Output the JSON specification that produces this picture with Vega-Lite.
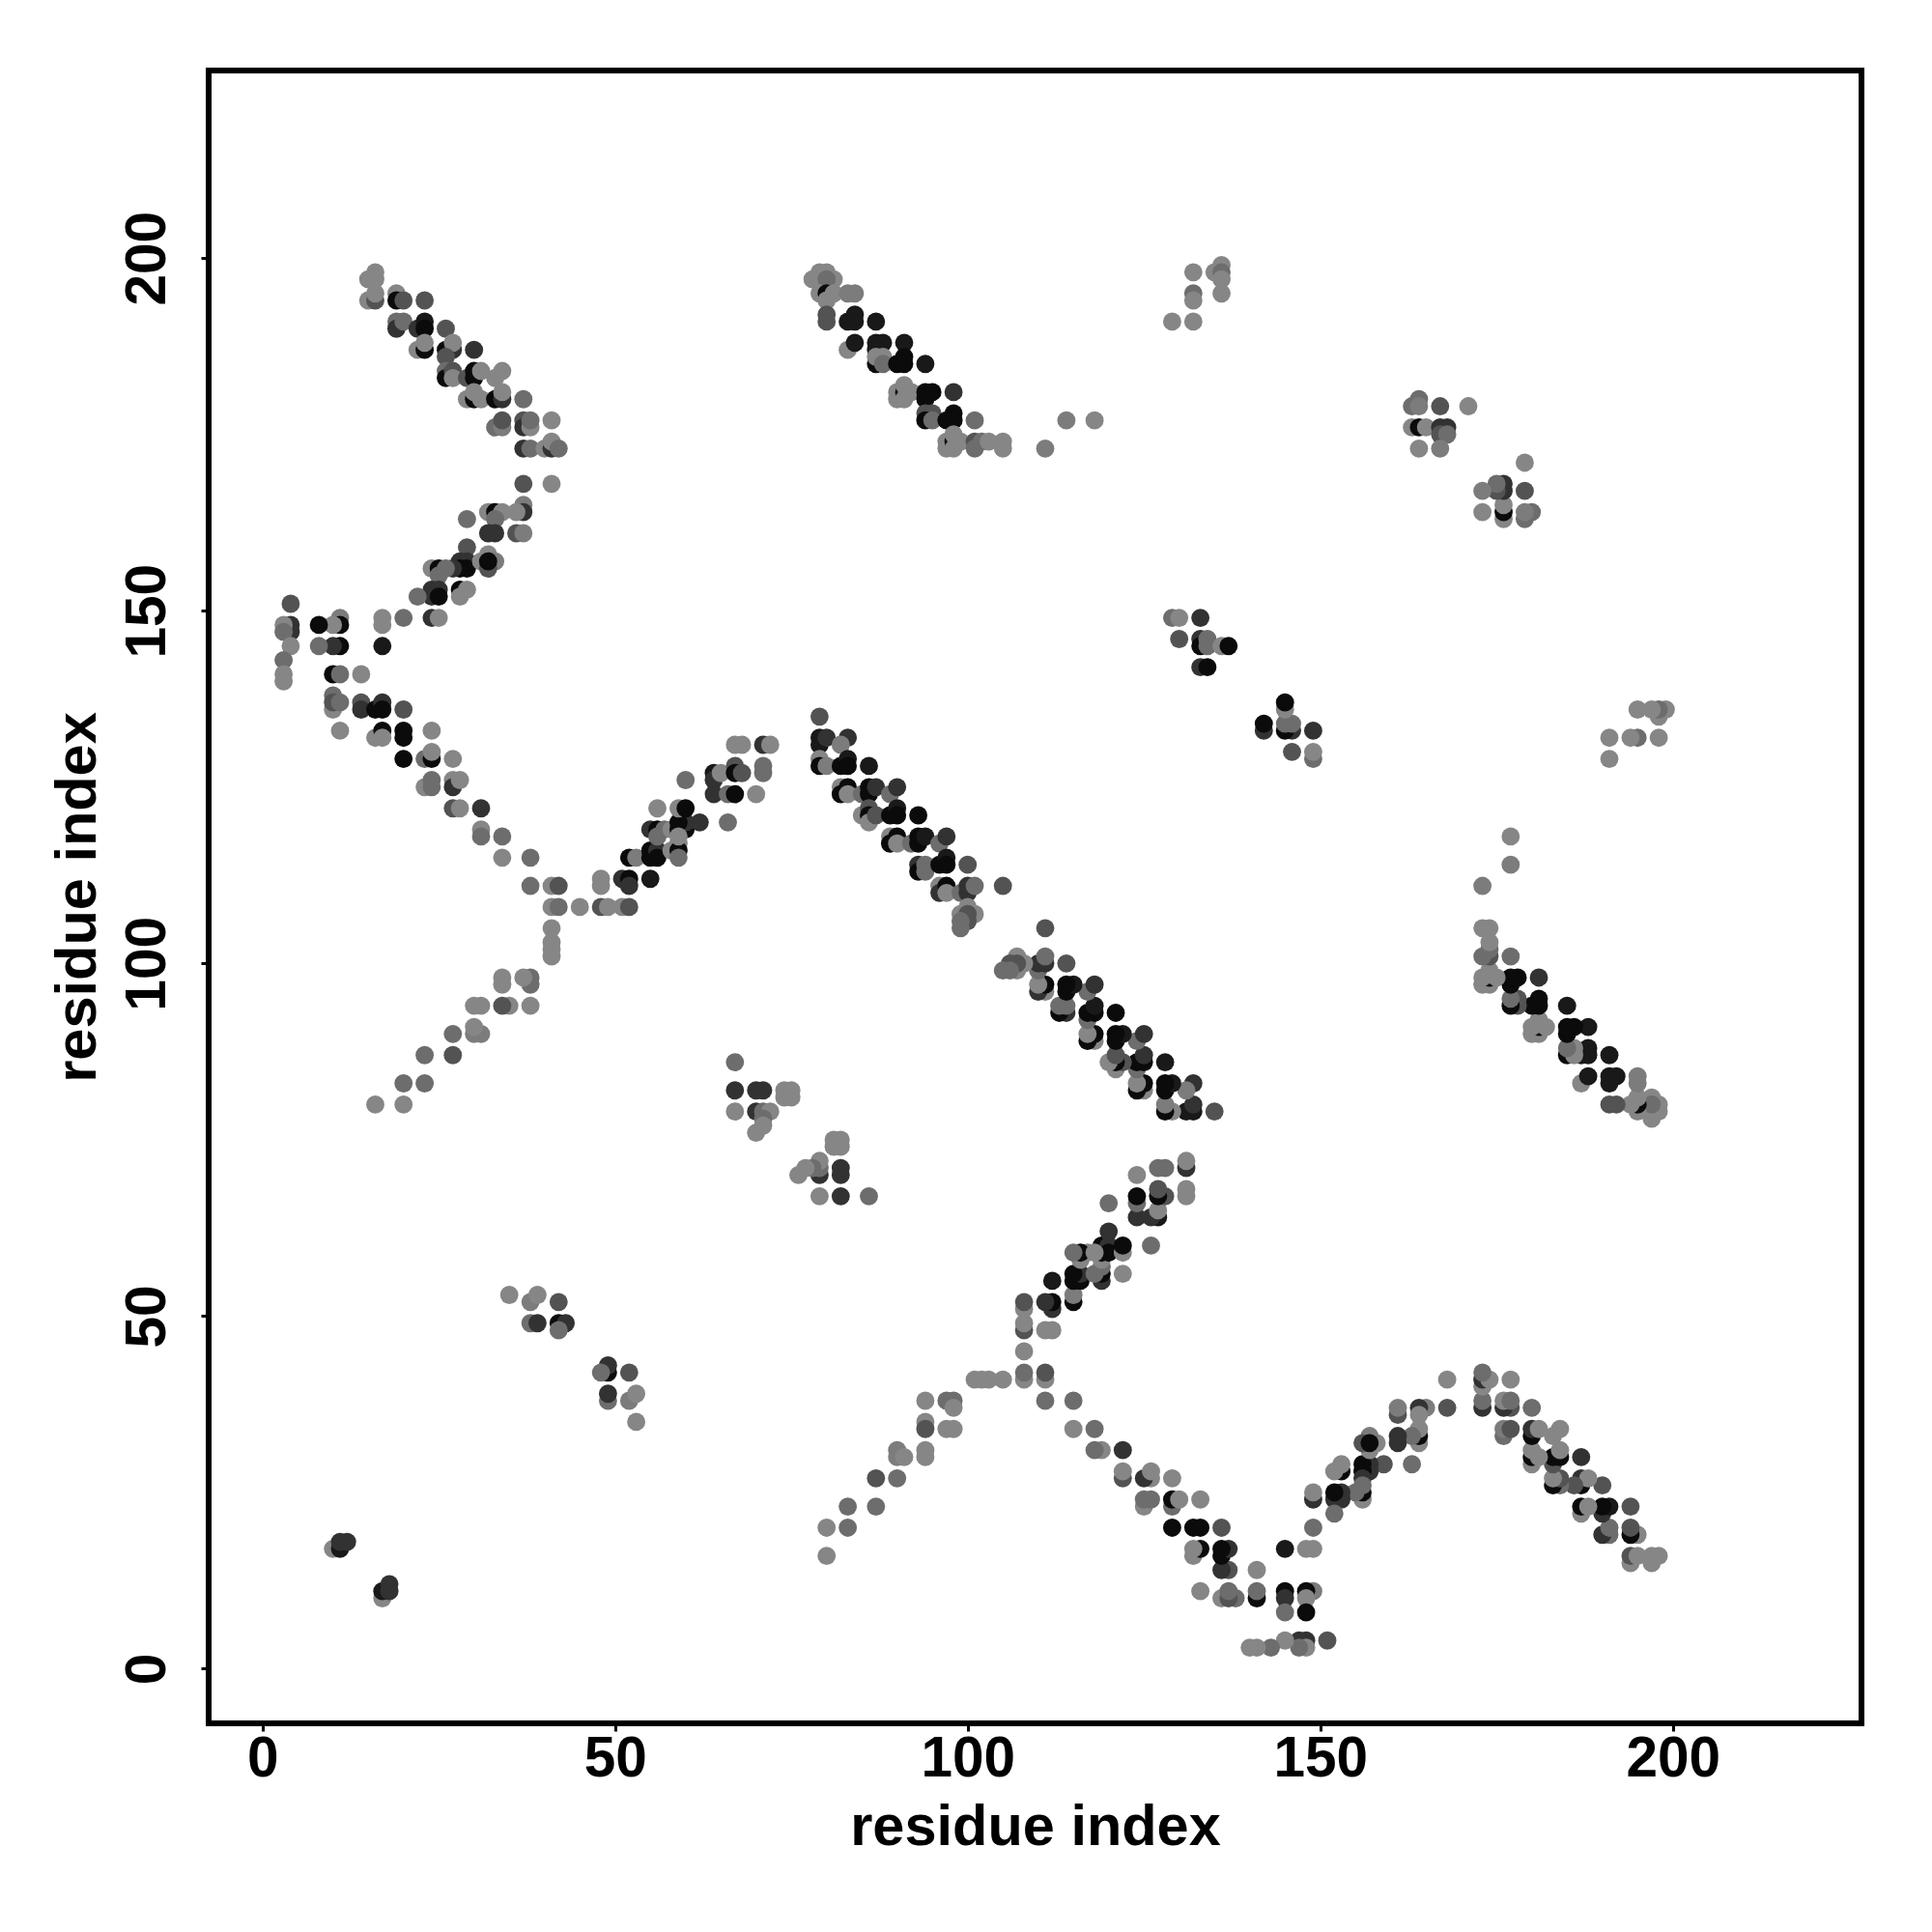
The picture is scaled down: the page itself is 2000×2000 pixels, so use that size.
{"$schema":"https://vega.github.io/schema/vega-lite/v6.json","autosize":{"type":"none"},"padding":{"left":216,"top":73,"right":73,"bottom":216},"width":1711,"height":1711,"background":"white","config":{"view":{"stroke":"#000000","strokeWidth":6,"fill":"white"}},
"data":{"values":[
{"i":38,"j":94,"w":0.05},{"i":94,"j":38,"w":0.05},
{"i":16,"j":198,"w":0.05},{"i":15,"j":197,"w":0.05},{"i":16,"j":197,"w":0.05},{"i":15,"j":194,"w":0.05},{"i":16,"j":194,"w":0.4},{"i":16,"j":195,"w":0.05},{"i":19,"j":195,"w":0.05},{"i":19,"j":194,"w":0.95},{"i":20,"j":194,"w":0.4},{"i":23,"j":194,"w":0.4},
{"i":19,"j":191,"w":0.22},{"i":19,"j":190,"w":0.65},{"i":20,"j":191,"w":0.22},{"i":22,"j":190,"w":0.65},{"i":23,"j":191,"w":0.85},{"i":23,"j":190,"w":0.95},{"i":26,"j":190,"w":0.4},
{"i":22,"j":187,"w":0.05},{"i":23,"j":187,"w":0.95},{"i":23,"j":188,"w":0.05},{"i":26,"j":187,"w":0.95},{"i":27,"j":187,"w":0.65},{"i":27,"j":188,"w":0.05},{"i":26,"j":186,"w":0.4},{"i":30,"j":187,"w":0.65},
{"i":26,"j":184,"w":0.22},{"i":26,"j":183,"w":0.95},{"i":27,"j":184,"w":0.4},{"i":27,"j":183,"w":0.05},{"i":29,"j":183,"w":0.4},{"i":30,"j":184,"w":0.95},{"i":30,"j":183,"w":0.95},{"i":31,"j":184,"w":0.05},{"i":33,"j":183,"w":0.05},{"i":34,"j":184,"w":0.05},
{"i":29,"j":180,"w":0.05},{"i":30,"j":180,"w":0.95},{"i":30,"j":181,"w":0.05},{"i":31,"j":180,"w":0.05},{"i":33,"j":180,"w":0.95},{"i":34,"j":180,"w":0.65},{"i":34,"j":181,"w":0.05},{"i":37,"j":180,"w":0.22},
{"i":33,"j":176,"w":0.22},{"i":34,"j":176,"w":0.12},{"i":34,"j":177,"w":0.4},{"i":37,"j":177,"w":0.4},{"i":37,"j":176,"w":0.65},{"i":38,"j":176,"w":0.05},{"i":38,"j":177,"w":0.22},{"i":41,"j":177,"w":0.05},
{"i":37,"j":173,"w":0.65},{"i":38,"j":173,"w":0.22},{"i":40,"j":173,"w":0.05},{"i":41,"j":173,"w":0.65},{"i":41,"j":174,"w":0.05},{"i":42,"j":173,"w":0.22},{"i":37,"j":168,"w":0.4},{"i":41,"j":168,"w":0.05},
{"i":37,"j":165,"w":0.12},{"i":37,"j":164,"w":0.65},{"i":36,"j":164,"w":0.05},{"i":32,"j":164,"w":0.05},{"i":33,"j":164,"w":0.95},{"i":34,"j":164,"w":0.05},{"i":33,"j":163,"w":0.22},{"i":29,"j":163,"w":0.22},
{"i":32,"j":161,"w":0.65},{"i":33,"j":161,"w":0.65},{"i":36,"j":161,"w":0.4},{"i":37,"j":161,"w":0.12},{"i":29,"j":159,"w":0.4},
{"i":28,"j":157,"w":0.65},{"i":29,"j":157,"w":0.65},{"i":28,"j":156,"w":0.95},{"i":29,"j":156,"w":0.95},{"i":27,"j":156,"w":0.65},
{"i":31,"j":157,"w":0.05},{"i":32,"j":158,"w":0.05},{"i":33,"j":157,"w":0.12},{"i":32,"j":156,"w":0.4},{"i":32,"j":157,"w":0.95},
{"i":24,"j":156,"w":0.05},{"i":25,"j":156,"w":0.95},{"i":26,"j":156,"w":0.22},{"i":25,"j":155,"w":0.22},
{"i":24,"j":153,"w":0.65},{"i":25,"j":153,"w":0.65},{"i":24,"j":152,"w":0.65},{"i":25,"j":152,"w":0.95},{"i":22,"j":152,"w":0.22},
{"i":28,"j":153,"w":0.95},{"i":29,"j":153,"w":0.05},{"i":28,"j":152,"w":0.05},
{"i":24,"j":149,"w":0.65},{"i":25,"j":149,"w":0.05},{"i":20,"j":149,"w":0.22},{"i":17,"j":149,"w":0.05},{"i":17,"j":148,"w":0.05},
{"i":11,"j":149,"w":0.12},{"i":11,"j":148,"w":0.95},{"i":10,"j":148,"w":0.05},{"i":8,"j":148,"w":0.95},
{"i":17,"j":145,"w":0.85},{"i":11,"j":145,"w":0.95},{"i":10,"j":145,"w":0.65},{"i":8,"j":145,"w":0.22},
{"i":4,"j":151,"w":0.4},{"i":4,"j":148,"w":0.65},{"i":4,"j":147,"w":0.65},{"i":3,"j":148,"w":0.05},{"i":3,"j":147,"w":0.22},{"i":4,"j":145,"w":0.05},{"i":3,"j":143,"w":0.22},{"i":3,"j":141,"w":0.05},{"i":3,"j":140,"w":0.05},
{"i":10,"j":141,"w":0.95},{"i":11,"j":141,"w":0.22},{"i":14,"j":141,"w":0.05},
{"i":10,"j":138,"w":0.22},{"i":10,"j":136,"w":0.05},{"i":10,"j":137,"w":0.4},{"i":11,"j":137,"w":0.22},{"i":14,"j":137,"w":0.4},{"i":14,"j":136,"w":0.65},{"i":16,"j":136,"w":0.95},{"i":17,"j":137,"w":0.65},{"i":17,"j":136,"w":0.95},{"i":20,"j":136,"w":0.4},
{"i":11,"j":133,"w":0.05},{"i":16,"j":132,"w":0.05},{"i":17,"j":133,"w":0.95},{"i":17,"j":132,"w":0.05},{"i":20,"j":133,"w":0.95},{"i":20,"j":132,"w":0.95},{"i":24,"j":133,"w":0.05},{"i":20,"j":129,"w":0.95},{"i":23,"j":129,"w":0.22},{"i":24,"j":129,"w":0.95},{"i":24,"j":130,"w":0.05},{"i":27,"j":129,"w":0.05},
{"i":23,"j":125,"w":0.05},{"i":24,"j":126,"w":0.22},{"i":24,"j":125,"w":0.22},{"i":27,"j":126,"w":0.05},{"i":27,"j":125,"w":0.65},{"i":28,"j":126,"w":0.05},{"i":27,"j":122,"w":0.4},{"i":28,"j":122,"w":0.05},{"i":31,"j":122,"w":0.65},
{"i":31,"j":119,"w":0.05},{"i":31,"j":118,"w":0.22},{"i":34,"j":118,"w":0.22},{"i":34,"j":115,"w":0.05},{"i":38,"j":115,"w":0.22},
{"i":38,"j":111,"w":0.22},{"i":41,"j":111,"w":0.05},{"i":42,"j":111,"w":0.4},{"i":41,"j":108,"w":0.05},{"i":42,"j":108,"w":0.22},{"i":45,"j":108,"w":0.05},{"i":48,"j":108,"w":0.4},{"i":49,"j":108,"w":0.05},{"i":51,"j":108,"w":0.05},{"i":52,"j":108,"w":0.4},
{"i":48,"j":112,"w":0.05},{"i":48,"j":111,"w":0.05},{"i":51,"j":112,"w":0.65},{"i":52,"j":112,"w":0.95},{"i":52,"j":111,"w":0.65},{"i":55,"j":112,"w":0.85},
{"i":41,"j":105,"w":0.05},{"i":41,"j":103,"w":0.05},{"i":41,"j":102,"w":0.05},{"i":41,"j":101,"w":0.05},
{"i":52,"j":115,"w":0.95},{"i":53,"j":115,"w":0.12},{"i":55,"j":116,"w":0.95},{"i":55,"j":115,"w":0.95},{"i":56,"j":116,"w":0.65},{"i":56,"j":115,"w":0.95},{"i":58,"j":116,"w":0.05},{"i":59,"j":117,"w":0.05},{"i":59,"j":116,"w":0.95},{"i":59,"j":115,"w":0.22},
{"i":55,"j":119,"w":0.65},{"i":56,"j":119,"w":0.95},{"i":57,"j":119,"w":0.22},{"i":56,"j":118,"w":0.22},{"i":58,"j":119,"w":0.05},{"i":59,"j":119,"w":0.95},{"i":60,"j":119,"w":0.95},{"i":60,"j":120,"w":0.65},{"i":62,"j":120,"w":0.65},{"i":59,"j":120,"w":0.95},{"i":59,"j":118,"w":0.05},
{"i":56,"j":122,"w":0.05},{"i":59,"j":122,"w":0.05},{"i":60,"j":122,"w":0.95},{"i":60,"j":126,"w":0.22},{"i":66,"j":120,"w":0.22},
{"i":64,"j":127,"w":0.85},{"i":64,"j":126,"w":0.65},{"i":65,"j":127,"w":0.05},{"i":64,"j":124,"w":0.65},{"i":66,"j":124,"w":0.22},{"i":67,"j":124,"w":0.95},{"i":67,"j":128,"w":0.4},{"i":67,"j":127,"w":0.95},{"i":68,"j":127,"w":0.4},{"i":70,"j":124,"w":0.05},{"i":71,"j":128,"w":0.22},{"i":71,"j":127,"w":0.22},{"i":67,"j":131,"w":0.05},{"i":68,"j":131,"w":0.05},{"i":71,"j":131,"w":0.65},{"i":72,"j":131,"w":0.05},
{"i":78,"j":197,"w":0.05},{"i":79,"j":198,"w":0.05},{"i":80,"j":198,"w":0.05},{"i":81,"j":197,"w":0.05},{"i":79,"j":197,"w":0.05},{"i":80,"j":197,"w":0.22},{"i":79,"j":195,"w":0.05},{"i":80,"j":195,"w":0.95},{"i":81,"j":195,"w":0.05},{"i":80,"j":194,"w":0.05},{"i":83,"j":195,"w":0.12},{"i":84,"j":195,"w":0.12},
{"i":80,"j":192,"w":0.4},{"i":80,"j":191,"w":0.4},{"i":83,"j":191,"w":0.85},{"i":84,"j":191,"w":0.85},{"i":84,"j":192,"w":0.85},{"i":87,"j":191,"w":0.85},
{"i":83,"j":187,"w":0.05},{"i":84,"j":188,"w":0.85},{"i":87,"j":188,"w":0.85},{"i":88,"j":188,"w":0.85},{"i":87,"j":187,"w":0.85},{"i":91,"j":188,"w":0.85},
{"i":87,"j":185,"w":0.95},{"i":87,"j":186,"w":0.05},{"i":88,"j":186,"w":0.05},{"i":88,"j":185,"w":0.22},{"i":90,"j":185,"w":0.95},{"i":91,"j":186,"w":0.95},{"i":91,"j":185,"w":0.95},{"i":94,"j":185,"w":0.85},
{"i":90,"j":181,"w":0.05},{"i":90,"j":180,"w":0.05},{"i":91,"j":181,"w":0.95},{"i":91,"j":182,"w":0.05},{"i":91,"j":180,"w":0.05},{"i":92,"j":181,"w":0.05},
{"i":94,"j":181,"w":0.95},{"i":95,"j":181,"w":0.95},{"i":94,"j":180,"w":0.95},{"i":98,"j":181,"w":0.65},
{"i":94,"j":178,"w":0.4},{"i":95,"j":178,"w":0.4},{"i":94,"j":177,"w":0.95},{"i":95,"j":177,"w":0.22},
{"i":97,"j":177,"w":0.95},{"i":98,"j":178,"w":0.95},{"i":98,"j":177,"w":0.95},{"i":101,"j":177,"w":0.22},
{"i":97,"j":174,"w":0.05},{"i":97,"j":173,"w":0.05},{"i":98,"j":174,"w":0.95},{"i":98,"j":175,"w":0.05},{"i":98,"j":173,"w":0.05},{"i":99,"j":174,"w":0.05},
{"i":101,"j":174,"w":0.4},{"i":101,"j":173,"w":0.22},{"i":102,"j":174,"w":0.22},{"i":103,"j":174,"w":0.05},{"i":105,"j":174,"w":0.05},{"i":105,"j":173,"w":0.05},
{"i":111,"j":173,"w":0.12},{"i":114,"j":177,"w":0.12},{"i":118,"j":177,"w":0.05},
{"i":129,"j":191,"w":0.05},{"i":132,"j":191,"w":0.05},{"i":132,"j":195,"w":0.22},{"i":132,"j":194,"w":0.05},{"i":132,"j":198,"w":0.05},{"i":135,"j":198,"w":0.05},{"i":136,"j":199,"w":0.05},{"i":136,"j":198,"w":0.22},{"i":136,"j":197,"w":0.05},{"i":136,"j":195,"w":0.05},
{"i":163,"j":179,"w":0.22},{"i":164,"j":180,"w":0.22},{"i":164,"j":179,"w":0.12},{"i":167,"j":179,"w":0.4},{"i":171,"j":179,"w":0.05},
{"i":163,"j":176,"w":0.05},{"i":164,"j":176,"w":0.95},{"i":165,"j":176,"w":0.05},{"i":167,"j":176,"w":0.65},{"i":168,"j":176,"w":0.65},{"i":167,"j":175,"w":0.4},{"i":168,"j":175,"w":0.22},{"i":164,"j":173,"w":0.05},{"i":167,"j":173,"w":0.12},
{"i":129,"j":149,"w":0.22},{"i":130,"j":149,"w":0.05},{"i":133,"j":149,"w":0.65},{"i":130,"j":146,"w":0.4},{"i":133,"j":146,"w":0.65},{"i":133,"j":145,"w":0.95},{"i":134,"j":146,"w":0.22},{"i":134,"j":145,"w":0.22},{"i":136,"j":145,"w":0.05},{"i":137,"j":145,"w":0.95},{"i":133,"j":142,"w":0.65},{"i":134,"j":142,"w":0.95},
{"i":79,"j":135,"w":0.4},{"i":79,"j":132,"w":0.85},{"i":79,"j":131,"w":0.85},{"i":80,"j":132,"w":0.65},{"i":83,"j":132,"w":0.65},{"i":82,"j":131,"w":0.12},
{"i":79,"j":129,"w":0.05},{"i":79,"j":128,"w":0.95},{"i":80,"j":128,"w":0.12},{"i":82,"j":128,"w":0.95},{"i":83,"j":129,"w":0.85},{"i":83,"j":128,"w":0.95},{"i":86,"j":128,"w":0.85},
{"i":82,"j":125,"w":0.05},{"i":82,"j":124,"w":0.95},{"i":83,"j":125,"w":0.95},{"i":83,"j":124,"w":0.05},
{"i":85,"j":124,"w":0.22},{"i":86,"j":125,"w":0.95},{"i":86,"j":124,"w":0.95},{"i":87,"j":125,"w":0.65},{"i":89,"j":124,"w":0.22},{"i":90,"j":125,"w":0.65},
{"i":85,"j":121,"w":0.05},{"i":86,"j":122,"w":0.4},{"i":86,"j":121,"w":0.95},{"i":86,"j":120,"w":0.05},{"i":87,"j":121,"w":0.4},
{"i":89,"j":121,"w":0.95},{"i":90,"j":122,"w":0.85},{"i":90,"j":121,"w":0.95},{"i":93,"j":121,"w":0.95},
{"i":89,"j":118,"w":0.05},{"i":89,"j":117,"w":0.95},{"i":90,"j":118,"w":0.95},{"i":90,"j":117,"w":0.05},
{"i":92,"j":117,"w":0.22},{"i":93,"j":118,"w":0.95},{"i":93,"j":117,"w":0.95},{"i":94,"j":118,"w":0.85},{"i":96,"j":117,"w":0.22},{"i":97,"j":118,"w":0.65},
{"i":93,"j":114,"w":0.65},{"i":93,"j":113,"w":0.95},{"i":94,"j":114,"w":0.22},{"i":94,"j":113,"w":0.22},
{"i":96,"j":114,"w":0.95},{"i":97,"j":115,"w":0.85},{"i":97,"j":114,"w":0.95},{"i":100,"j":114,"w":0.4},
{"i":96,"j":111,"w":0.05},{"i":96,"j":110,"w":0.65},{"i":97,"j":111,"w":0.95},{"i":97,"j":110,"w":0.05},
{"i":99,"j":110,"w":0.22},{"i":100,"j":111,"w":0.65},{"i":100,"j":110,"w":0.65},{"i":101,"j":111,"w":0.22},{"i":105,"j":111,"w":0.4},
{"i":99,"j":107,"w":0.05},{"i":100,"j":108,"w":0.05},{"i":101,"j":107,"w":0.05},{"i":100,"j":107,"w":0.4},{"i":100,"j":106,"w":0.4},{"i":99,"j":105,"w":0.22},{"i":99,"j":106,"w":0.22},
{"i":10,"j":17,"w":0.05},{"i":11,"j":17,"w":0.85},{"i":11,"j":18,"w":0.65},{"i":12,"j":18,"w":0.65},
{"i":16,"j":80,"w":0.05},{"i":20,"j":80,"w":0.05},{"i":20,"j":83,"w":0.22},{"i":23,"j":83,"w":0.22},{"i":23,"j":87,"w":0.22},{"i":27,"j":87,"w":0.4},{"i":27,"j":90,"w":0.22},{"i":31,"j":90,"w":0.12},{"i":30,"j":90,"w":0.12},{"i":30,"j":91,"w":0.05},{"i":31,"j":94,"w":0.05},{"i":30,"j":94,"w":0.05},{"i":35,"j":94,"w":0.05},{"i":34,"j":94,"w":0.4},{"i":38,"j":97,"w":0.22},{"i":38,"j":98,"w":0.22},{"i":37,"j":98,"w":0.05},{"i":34,"j":97,"w":0.05},{"i":34,"j":98,"w":0.05},
{"i":35,"j":53,"w":0.05},{"i":38,"j":52,"w":0.12},{"i":39,"j":53,"w":0.05},{"i":42,"j":52,"w":0.4},{"i":38,"j":49,"w":0.22},{"i":39,"j":49,"w":0.65},{"i":42,"j":49,"w":0.95},{"i":43,"j":49,"w":0.65},{"i":42,"j":48,"w":0.22},
{"i":67,"j":86,"w":0.22},{"i":67,"j":82,"w":0.65},{"i":67,"j":79,"w":0.05},{"i":70,"j":82,"w":0.65},{"i":71,"j":82,"w":0.65},{"i":74,"j":82,"w":0.05},{"i":75,"j":82,"w":0.05},{"i":74,"j":81,"w":0.05},{"i":75,"j":81,"w":0.05},{"i":70,"j":79,"w":0.65},{"i":71,"j":79,"w":0.22},{"i":72,"j":79,"w":0.05},{"i":71,"j":78,"w":0.22},{"i":70,"j":76,"w":0.05},{"i":71,"j":77,"w":0.05},

{"j":16,"i":198,"w":0.05},{"j":15,"i":197,"w":0.05},{"j":16,"i":197,"w":0.05},{"j":15,"i":194,"w":0.05},{"j":16,"i":194,"w":0.4},{"j":16,"i":195,"w":0.05},{"j":19,"i":195,"w":0.05},{"j":19,"i":194,"w":0.95},{"j":20,"i":194,"w":0.4},{"j":23,"i":194,"w":0.4},
{"j":19,"i":191,"w":0.22},{"j":19,"i":190,"w":0.65},{"j":20,"i":191,"w":0.22},{"j":22,"i":190,"w":0.65},{"j":23,"i":191,"w":0.85},{"j":23,"i":190,"w":0.95},{"j":26,"i":190,"w":0.4},
{"j":22,"i":187,"w":0.05},{"j":23,"i":187,"w":0.95},{"j":23,"i":188,"w":0.05},{"j":26,"i":187,"w":0.95},{"j":27,"i":187,"w":0.65},{"j":27,"i":188,"w":0.05},{"j":26,"i":186,"w":0.4},{"j":30,"i":187,"w":0.65},
{"j":26,"i":184,"w":0.22},{"j":26,"i":183,"w":0.95},{"j":27,"i":184,"w":0.4},{"j":27,"i":183,"w":0.05},{"j":29,"i":183,"w":0.4},{"j":30,"i":184,"w":0.95},{"j":30,"i":183,"w":0.95},{"j":31,"i":184,"w":0.05},{"j":33,"i":183,"w":0.05},{"j":34,"i":184,"w":0.05},
{"j":29,"i":180,"w":0.05},{"j":30,"i":180,"w":0.95},{"j":30,"i":181,"w":0.05},{"j":31,"i":180,"w":0.05},{"j":33,"i":180,"w":0.95},{"j":34,"i":180,"w":0.65},{"j":34,"i":181,"w":0.05},{"j":37,"i":180,"w":0.22},
{"j":33,"i":176,"w":0.22},{"j":34,"i":176,"w":0.12},{"j":34,"i":177,"w":0.4},{"j":37,"i":177,"w":0.4},{"j":37,"i":176,"w":0.65},{"j":38,"i":176,"w":0.05},{"j":38,"i":177,"w":0.22},{"j":41,"i":177,"w":0.05},
{"j":37,"i":173,"w":0.65},{"j":38,"i":173,"w":0.22},{"j":40,"i":173,"w":0.05},{"j":41,"i":173,"w":0.65},{"j":41,"i":174,"w":0.05},{"j":42,"i":173,"w":0.22},{"j":37,"i":168,"w":0.4},{"j":41,"i":168,"w":0.05},
{"j":37,"i":165,"w":0.12},{"j":37,"i":164,"w":0.65},{"j":36,"i":164,"w":0.05},{"j":32,"i":164,"w":0.05},{"j":33,"i":164,"w":0.95},{"j":34,"i":164,"w":0.05},{"j":33,"i":163,"w":0.22},{"j":29,"i":163,"w":0.22},
{"j":32,"i":161,"w":0.65},{"j":33,"i":161,"w":0.65},{"j":36,"i":161,"w":0.4},{"j":37,"i":161,"w":0.12},{"j":29,"i":159,"w":0.4},
{"j":28,"i":157,"w":0.65},{"j":29,"i":157,"w":0.65},{"j":28,"i":156,"w":0.95},{"j":29,"i":156,"w":0.95},{"j":27,"i":156,"w":0.65},
{"j":31,"i":157,"w":0.05},{"j":32,"i":158,"w":0.05},{"j":33,"i":157,"w":0.12},{"j":32,"i":156,"w":0.4},{"j":32,"i":157,"w":0.95},
{"j":24,"i":156,"w":0.05},{"j":25,"i":156,"w":0.95},{"j":26,"i":156,"w":0.22},{"j":25,"i":155,"w":0.22},
{"j":24,"i":153,"w":0.65},{"j":25,"i":153,"w":0.65},{"j":24,"i":152,"w":0.65},{"j":25,"i":152,"w":0.95},{"j":22,"i":152,"w":0.22},
{"j":28,"i":153,"w":0.95},{"j":29,"i":153,"w":0.05},{"j":28,"i":152,"w":0.05},
{"j":24,"i":149,"w":0.65},{"j":25,"i":149,"w":0.05},{"j":20,"i":149,"w":0.22},{"j":17,"i":149,"w":0.05},{"j":17,"i":148,"w":0.05},
{"j":11,"i":149,"w":0.12},{"j":11,"i":148,"w":0.95},{"j":10,"i":148,"w":0.05},{"j":8,"i":148,"w":0.95},
{"j":17,"i":145,"w":0.85},{"j":11,"i":145,"w":0.95},{"j":10,"i":145,"w":0.65},{"j":8,"i":145,"w":0.22},
{"j":4,"i":151,"w":0.4},{"j":4,"i":148,"w":0.65},{"j":4,"i":147,"w":0.65},{"j":3,"i":148,"w":0.05},{"j":3,"i":147,"w":0.22},{"j":4,"i":145,"w":0.05},{"j":3,"i":143,"w":0.22},{"j":3,"i":141,"w":0.05},{"j":3,"i":140,"w":0.05},
{"j":10,"i":141,"w":0.95},{"j":11,"i":141,"w":0.22},{"j":14,"i":141,"w":0.05},
{"j":10,"i":138,"w":0.22},{"j":10,"i":136,"w":0.05},{"j":10,"i":137,"w":0.4},{"j":11,"i":137,"w":0.22},{"j":14,"i":137,"w":0.4},{"j":14,"i":136,"w":0.65},{"j":16,"i":136,"w":0.95},{"j":17,"i":137,"w":0.65},{"j":17,"i":136,"w":0.95},{"j":20,"i":136,"w":0.4},
{"j":11,"i":133,"w":0.05},{"j":16,"i":132,"w":0.05},{"j":17,"i":133,"w":0.95},{"j":17,"i":132,"w":0.05},{"j":20,"i":133,"w":0.95},{"j":20,"i":132,"w":0.95},{"j":24,"i":133,"w":0.05},{"j":20,"i":129,"w":0.95},{"j":23,"i":129,"w":0.22},{"j":24,"i":129,"w":0.95},{"j":24,"i":130,"w":0.05},{"j":27,"i":129,"w":0.05},
{"j":23,"i":125,"w":0.05},{"j":24,"i":126,"w":0.22},{"j":24,"i":125,"w":0.22},{"j":27,"i":126,"w":0.05},{"j":27,"i":125,"w":0.65},{"j":28,"i":126,"w":0.05},{"j":27,"i":122,"w":0.4},{"j":28,"i":122,"w":0.05},{"j":31,"i":122,"w":0.65},
{"j":31,"i":119,"w":0.05},{"j":31,"i":118,"w":0.22},{"j":34,"i":118,"w":0.22},{"j":34,"i":115,"w":0.05},{"j":38,"i":115,"w":0.22},
{"j":38,"i":111,"w":0.22},{"j":41,"i":111,"w":0.05},{"j":42,"i":111,"w":0.4},{"j":41,"i":108,"w":0.05},{"j":42,"i":108,"w":0.22},{"j":45,"i":108,"w":0.05},{"j":48,"i":108,"w":0.4},{"j":49,"i":108,"w":0.05},{"j":51,"i":108,"w":0.05},{"j":52,"i":108,"w":0.4},
{"j":48,"i":112,"w":0.05},{"j":48,"i":111,"w":0.05},{"j":51,"i":112,"w":0.65},{"j":52,"i":112,"w":0.95},{"j":52,"i":111,"w":0.65},{"j":55,"i":112,"w":0.85},
{"j":41,"i":105,"w":0.05},{"j":41,"i":103,"w":0.05},{"j":41,"i":102,"w":0.05},{"j":41,"i":101,"w":0.05},
{"j":52,"i":115,"w":0.95},{"j":53,"i":115,"w":0.12},{"j":55,"i":116,"w":0.95},{"j":55,"i":115,"w":0.95},{"j":56,"i":116,"w":0.65},{"j":56,"i":115,"w":0.95},{"j":58,"i":116,"w":0.05},{"j":59,"i":117,"w":0.05},{"j":59,"i":116,"w":0.95},{"j":59,"i":115,"w":0.22},
{"j":55,"i":119,"w":0.65},{"j":56,"i":119,"w":0.95},{"j":57,"i":119,"w":0.22},{"j":56,"i":118,"w":0.22},{"j":58,"i":119,"w":0.05},{"j":59,"i":119,"w":0.95},{"j":60,"i":119,"w":0.95},{"j":60,"i":120,"w":0.65},{"j":62,"i":120,"w":0.65},{"j":59,"i":120,"w":0.95},{"j":59,"i":118,"w":0.05},
{"j":56,"i":122,"w":0.05},{"j":59,"i":122,"w":0.05},{"j":60,"i":122,"w":0.95},{"j":60,"i":126,"w":0.22},{"j":66,"i":120,"w":0.22},
{"j":64,"i":127,"w":0.85},{"j":64,"i":126,"w":0.65},{"j":65,"i":127,"w":0.05},{"j":64,"i":124,"w":0.65},{"j":66,"i":124,"w":0.22},{"j":67,"i":124,"w":0.95},{"j":67,"i":128,"w":0.4},{"j":67,"i":127,"w":0.95},{"j":68,"i":127,"w":0.4},{"j":70,"i":124,"w":0.05},{"j":71,"i":128,"w":0.22},{"j":71,"i":127,"w":0.22},{"j":67,"i":131,"w":0.05},{"j":68,"i":131,"w":0.05},{"j":71,"i":131,"w":0.65},{"j":72,"i":131,"w":0.05},
{"j":78,"i":197,"w":0.05},{"j":79,"i":198,"w":0.05},{"j":80,"i":198,"w":0.05},{"j":81,"i":197,"w":0.05},{"j":79,"i":197,"w":0.05},{"j":80,"i":197,"w":0.22},{"j":79,"i":195,"w":0.05},{"j":80,"i":195,"w":0.95},{"j":81,"i":195,"w":0.05},{"j":80,"i":194,"w":0.05},{"j":83,"i":195,"w":0.12},{"j":84,"i":195,"w":0.12},
{"j":80,"i":192,"w":0.4},{"j":80,"i":191,"w":0.4},{"j":83,"i":191,"w":0.85},{"j":84,"i":191,"w":0.85},{"j":84,"i":192,"w":0.85},{"j":87,"i":191,"w":0.85},
{"j":83,"i":187,"w":0.05},{"j":84,"i":188,"w":0.85},{"j":87,"i":188,"w":0.85},{"j":88,"i":188,"w":0.85},{"j":87,"i":187,"w":0.85},{"j":91,"i":188,"w":0.85},
{"j":87,"i":185,"w":0.95},{"j":87,"i":186,"w":0.05},{"j":88,"i":186,"w":0.05},{"j":88,"i":185,"w":0.22},{"j":90,"i":185,"w":0.95},{"j":91,"i":186,"w":0.95},{"j":91,"i":185,"w":0.95},{"j":94,"i":185,"w":0.85},
{"j":90,"i":181,"w":0.05},{"j":90,"i":180,"w":0.05},{"j":91,"i":181,"w":0.95},{"j":91,"i":182,"w":0.05},{"j":91,"i":180,"w":0.05},{"j":92,"i":181,"w":0.05},
{"j":94,"i":181,"w":0.95},{"j":95,"i":181,"w":0.95},{"j":94,"i":180,"w":0.95},{"j":98,"i":181,"w":0.65},
{"j":94,"i":178,"w":0.4},{"j":95,"i":178,"w":0.4},{"j":94,"i":177,"w":0.95},{"j":95,"i":177,"w":0.22},
{"j":97,"i":177,"w":0.95},{"j":98,"i":178,"w":0.95},{"j":98,"i":177,"w":0.95},{"j":101,"i":177,"w":0.22},
{"j":97,"i":174,"w":0.05},{"j":97,"i":173,"w":0.05},{"j":98,"i":174,"w":0.95},{"j":98,"i":175,"w":0.05},{"j":98,"i":173,"w":0.05},{"j":99,"i":174,"w":0.05},
{"j":101,"i":174,"w":0.4},{"j":101,"i":173,"w":0.22},{"j":102,"i":174,"w":0.22},{"j":103,"i":174,"w":0.05},{"j":105,"i":174,"w":0.05},{"j":105,"i":173,"w":0.05},
{"j":111,"i":173,"w":0.12},{"j":114,"i":177,"w":0.12},{"j":118,"i":177,"w":0.05},
{"j":129,"i":191,"w":0.05},{"j":132,"i":191,"w":0.05},{"j":132,"i":195,"w":0.22},{"j":132,"i":194,"w":0.05},{"j":132,"i":198,"w":0.05},{"j":135,"i":198,"w":0.05},{"j":136,"i":199,"w":0.05},{"j":136,"i":198,"w":0.22},{"j":136,"i":197,"w":0.05},{"j":136,"i":195,"w":0.05},
{"j":163,"i":179,"w":0.22},{"j":164,"i":180,"w":0.22},{"j":164,"i":179,"w":0.12},{"j":167,"i":179,"w":0.4},{"j":171,"i":179,"w":0.05},
{"j":163,"i":176,"w":0.05},{"j":164,"i":176,"w":0.95},{"j":165,"i":176,"w":0.05},{"j":167,"i":176,"w":0.65},{"j":168,"i":176,"w":0.65},{"j":167,"i":175,"w":0.4},{"j":168,"i":175,"w":0.22},{"j":164,"i":173,"w":0.05},{"j":167,"i":173,"w":0.12},
{"j":129,"i":149,"w":0.22},{"j":130,"i":149,"w":0.05},{"j":133,"i":149,"w":0.65},{"j":130,"i":146,"w":0.4},{"j":133,"i":146,"w":0.65},{"j":133,"i":145,"w":0.95},{"j":134,"i":146,"w":0.22},{"j":134,"i":145,"w":0.22},{"j":136,"i":145,"w":0.05},{"j":137,"i":145,"w":0.95},{"j":133,"i":142,"w":0.65},{"j":134,"i":142,"w":0.95},
{"j":79,"i":135,"w":0.4},{"j":79,"i":132,"w":0.85},{"j":79,"i":131,"w":0.85},{"j":80,"i":132,"w":0.65},{"j":83,"i":132,"w":0.65},{"j":82,"i":131,"w":0.12},
{"j":79,"i":129,"w":0.05},{"j":79,"i":128,"w":0.95},{"j":80,"i":128,"w":0.12},{"j":82,"i":128,"w":0.95},{"j":83,"i":129,"w":0.85},{"j":83,"i":128,"w":0.95},{"j":86,"i":128,"w":0.85},
{"j":82,"i":125,"w":0.05},{"j":82,"i":124,"w":0.95},{"j":83,"i":125,"w":0.95},{"j":83,"i":124,"w":0.05},
{"j":85,"i":124,"w":0.22},{"j":86,"i":125,"w":0.95},{"j":86,"i":124,"w":0.95},{"j":87,"i":125,"w":0.65},{"j":89,"i":124,"w":0.22},{"j":90,"i":125,"w":0.65},
{"j":85,"i":121,"w":0.05},{"j":86,"i":122,"w":0.4},{"j":86,"i":121,"w":0.95},{"j":86,"i":120,"w":0.05},{"j":87,"i":121,"w":0.4},
{"j":89,"i":121,"w":0.95},{"j":90,"i":122,"w":0.85},{"j":90,"i":121,"w":0.95},{"j":93,"i":121,"w":0.95},
{"j":89,"i":118,"w":0.05},{"j":89,"i":117,"w":0.95},{"j":90,"i":118,"w":0.95},{"j":90,"i":117,"w":0.05},
{"j":92,"i":117,"w":0.22},{"j":93,"i":118,"w":0.95},{"j":93,"i":117,"w":0.95},{"j":94,"i":118,"w":0.85},{"j":96,"i":117,"w":0.22},{"j":97,"i":118,"w":0.65},
{"j":93,"i":114,"w":0.65},{"j":93,"i":113,"w":0.95},{"j":94,"i":114,"w":0.22},{"j":94,"i":113,"w":0.22},
{"j":96,"i":114,"w":0.95},{"j":97,"i":115,"w":0.85},{"j":97,"i":114,"w":0.95},{"j":100,"i":114,"w":0.4},
{"j":96,"i":111,"w":0.05},{"j":96,"i":110,"w":0.65},{"j":97,"i":111,"w":0.95},{"j":97,"i":110,"w":0.05},
{"j":99,"i":110,"w":0.22},{"j":100,"i":111,"w":0.65},{"j":100,"i":110,"w":0.65},{"j":101,"i":111,"w":0.22},{"j":105,"i":111,"w":0.4},
{"j":99,"i":107,"w":0.05},{"j":100,"i":108,"w":0.05},{"j":101,"i":107,"w":0.05},{"j":100,"i":107,"w":0.4},{"j":100,"i":106,"w":0.4},{"j":99,"i":105,"w":0.22},{"j":99,"i":106,"w":0.22},
{"j":10,"i":17,"w":0.05},{"j":11,"i":17,"w":0.85},{"j":11,"i":18,"w":0.65},{"j":12,"i":18,"w":0.65},
{"j":16,"i":80,"w":0.05},{"j":20,"i":80,"w":0.05},{"j":20,"i":83,"w":0.22},{"j":23,"i":83,"w":0.22},{"j":23,"i":87,"w":0.22},{"j":27,"i":87,"w":0.4},{"j":27,"i":90,"w":0.22},{"j":31,"i":90,"w":0.12},{"j":30,"i":90,"w":0.12},{"j":30,"i":91,"w":0.05},{"j":31,"i":94,"w":0.05},{"j":30,"i":94,"w":0.05},{"j":35,"i":94,"w":0.05},{"j":34,"i":94,"w":0.4},{"j":38,"i":97,"w":0.22},{"j":38,"i":98,"w":0.22},{"j":37,"i":98,"w":0.05},{"j":34,"i":97,"w":0.05},{"j":34,"i":98,"w":0.05},
{"j":35,"i":53,"w":0.05},{"j":38,"i":52,"w":0.12},{"j":39,"i":53,"w":0.05},{"j":42,"i":52,"w":0.4},{"j":38,"i":49,"w":0.22},{"j":39,"i":49,"w":0.65},{"j":42,"i":49,"w":0.95},{"j":43,"i":49,"w":0.65},{"j":42,"i":48,"w":0.22},
{"j":67,"i":86,"w":0.22},{"j":67,"i":82,"w":0.65},{"j":67,"i":79,"w":0.05},{"j":70,"i":82,"w":0.65},{"j":71,"i":82,"w":0.65},{"j":74,"i":82,"w":0.05},{"j":75,"i":82,"w":0.05},{"j":74,"i":81,"w":0.05},{"j":75,"i":81,"w":0.05},{"j":70,"i":79,"w":0.65},{"j":71,"i":79,"w":0.22},{"j":72,"i":79,"w":0.05},{"j":71,"i":78,"w":0.22},{"j":70,"i":76,"w":0.05},{"j":71,"i":77,"w":0.05}
]},
"mark":{"type":"circle","size":355,"opacity":1},
"encoding":{
"x":{"field":"i","type":"quantitative","scale":{"domain":[-7.63,226.75],"nice":false,"zero":false},"axis":{"values":[0,50,100,150,200],"grid":false,"domain":false,"tickColor":"#000000","tickWidth":3,"tickSize":8,"labelFont":"Liberation Sans","labelFontWeight":"bold","labelFontSize":58.5,"labelColor":"#000000","labelPadding":0,"labelFlush":false,"labelOverlap":false,"title":"residue index","titleFont":"Liberation Sans","titleFontWeight":"bold","titleFontSize":59.5,"titleColor":"#000000","titlePadding":13}},
"y":{"field":"j","type":"quantitative","scale":{"domain":[-7.74,226.6],"nice":false,"zero":false},"axis":{"values":[0,50,100,150,200],"grid":false,"domain":false,"tickColor":"#000000","tickWidth":3,"tickSize":8,"labelFont":"Liberation Sans","labelFontWeight":"bold","labelFontSize":58.5,"labelColor":"#000000","labelAngle":270,"labelAlign":"center","labelBaseline":"bottom","labelPadding":26,"labelFlush":false,"labelOverlap":false,"title":"residue index","titleFont":"Liberation Sans","titleFontWeight":"bold","titleFontSize":59.5,"titleColor":"#000000","titlePadding":13}},
"color":{"field":"w","type":"quantitative","scale":{"domain":[0,1],"range":["#8e8e8e","#000000"]},"legend":null},
"order":[{"field":"i","type":"quantitative"},{"field":"j","type":"quantitative"}]
}}
